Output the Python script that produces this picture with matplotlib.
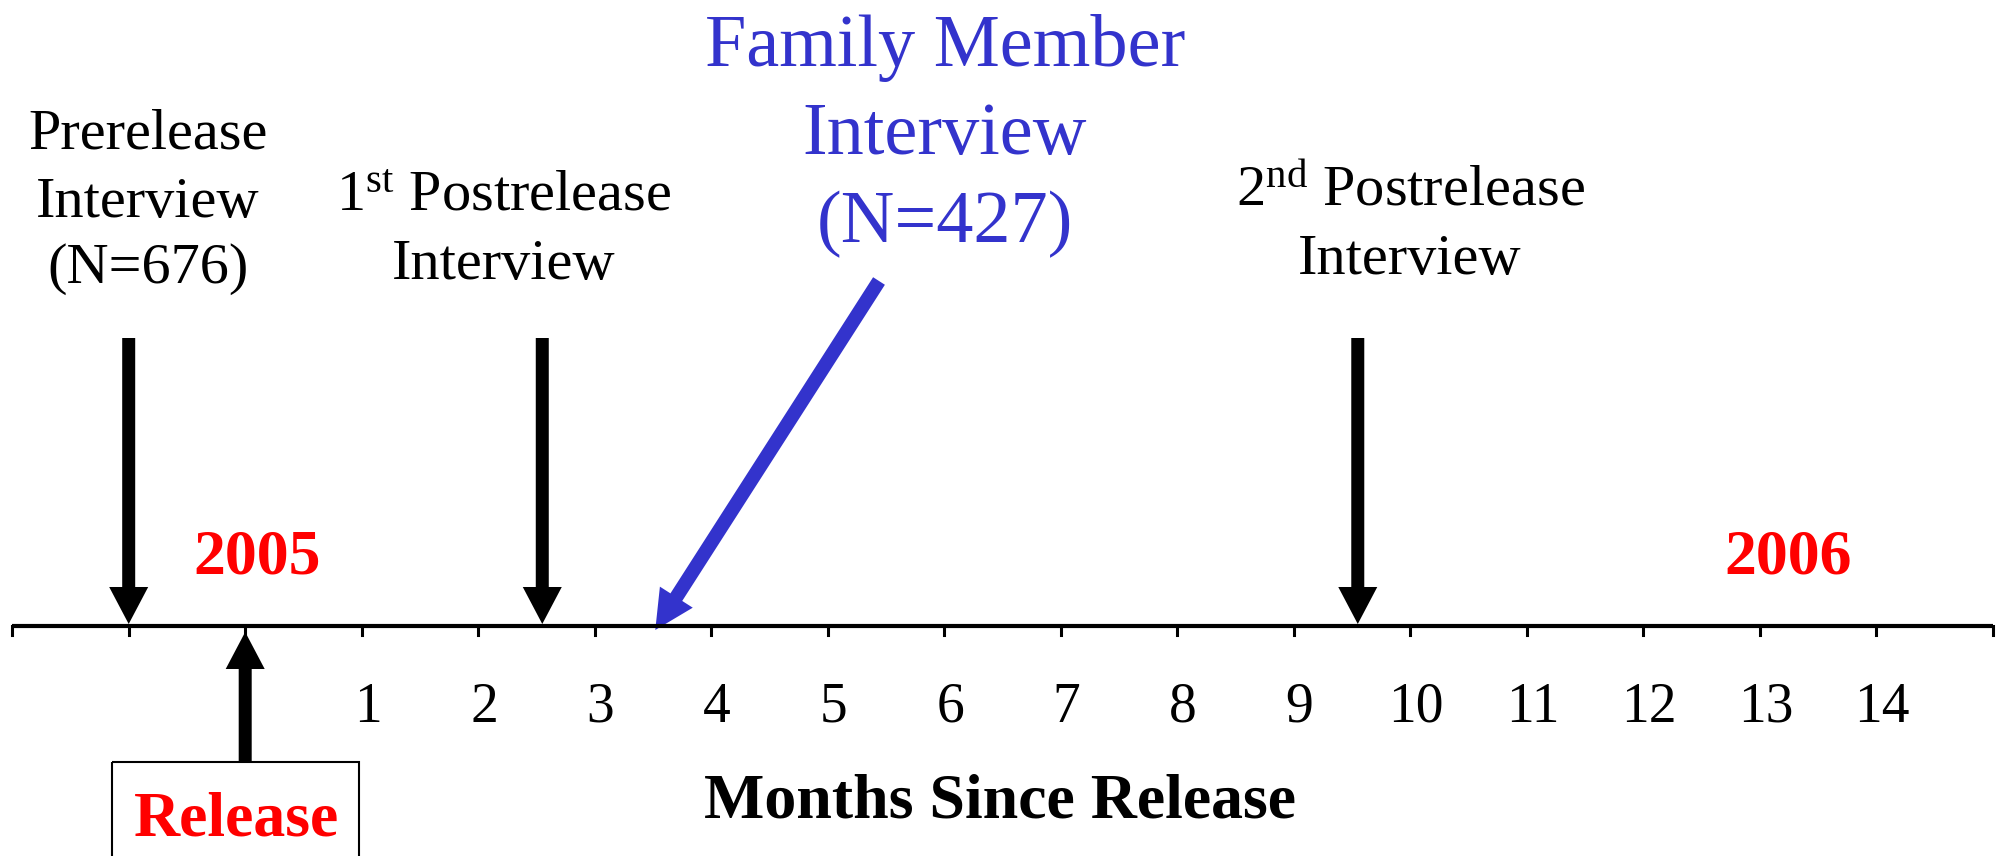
import matplotlib
matplotlib.use('Agg')
import matplotlib.pyplot as plt
from matplotlib.patches import FancyArrowPatch, Rectangle

plt.rcParams['font.family'] = 'Liberation Serif'
plt.rcParams['mathtext.fontset'] = 'custom'
plt.rcParams['mathtext.rm'] = 'Liberation Serif'
plt.rcParams['mathtext.it'] = 'Liberation Serif:italic'
plt.rcParams['mathtext.bf'] = 'Liberation Serif:bold'

# timeline data
months = list(range(-2, 16))
labelled_months = list(range(1, 15))
month_labels = [str(m) for m in labelled_months]

event_months = [-1, 2.55, 9.55]
event_lines = [['Prerelease', 'Interview', '(N=676)'],
               ['1$^{\\mathrm{st}}$ Postrelease', 'Interview'],
               ['2$^{\\mathrm{nd}}$ Postrelease', 'Interview']]
family_month = 3.52
family_lines = ['Family Member', 'Interview', '(N=427)']
release_month = 0
years = ['2005', '2006']

blue = '#3333CC'
red = '#FF0000'

# layout: x in months, y in pixels from the top
px0 = 245.2    # pixel of month 0
pxm = 116.5    # pixels per month
W, H = 1998, 856
def mx(px):
    return (px - px0) / pxm

fig = plt.figure(figsize=(19.98, 8.56), dpi=100)
ax = fig.add_axes([0, 0, 1, 1])
ax.set_xlim(mx(0), mx(W))
ax.set_ylim(H, 0)
ax.axis('off')

axis_y = 626
ax.plot([months[0], months[-1]], [axis_y, axis_y], color='black', lw=3.0, solid_capstyle='butt')
for m in months:
    ax.plot([m, m], [axis_y, axis_y + 9], color='black', lw=2.2)
for m, lab in zip(labelled_months, month_labels):
    ax.text(m + 0.05, 722, lab, ha='center', va='baseline', fontsize=40)

ax.text(mx(1000), 818, 'Months Since Release', ha='center', va='baseline',
        fontsize=46, fontweight='bold')

def arrow(x0, y0, x1, y1, color, tail, head_w, head_l):
    style = 'simple,head_length=%g,head_width=%g,tail_width=%g' % (head_l, head_w, tail)
    p = FancyArrowPatch((x0, y0), (x1, y1), arrowstyle=style, mutation_scale=0.72,
                        color=color, lw=0, shrinkA=0, shrinkB=0)
    ax.add_patch(p)

# event arrows and labels
text_x = [148, 504, 1410]
text_base = [[148, 217, 283], [210, 279], [206, 274]]
for m, lines, tx, bases in zip(event_months, event_lines, text_x, text_base):
    arrow(m, 338, m, axis_y - 2, 'black', 13, 39, 37)
    for line, b in zip(lines, bases):
        ax.text(mx(tx), b, line, ha='center', va='baseline', fontsize=42)

# family member interview
arrow(mx(879), 281, family_month, axis_y + 4, blue, 14, 39, 39)
for line, b in zip(family_lines, [66, 154, 242]):
    ax.text(mx(945), b, line, ha='center', va='baseline', fontsize=53.5, color=blue)

# years
for yx, yr in zip([257, 1788], years):
    ax.text(mx(yx), 573, yr, ha='center', va='baseline', fontsize=46,
            fontweight='bold', color=red)

# release
arrow(release_month, 762, release_month, axis_y + 6, 'black', 13, 39, 37)
ax.add_patch(Rectangle((mx(112), 762), mx(359) - mx(112), 100, fill=False,
                       edgecolor='black', lw=1.5))
ax.text(mx(236), 835, 'Release', ha='center', va='baseline', fontsize=46,
        fontweight='bold', color=red)

fig.savefig('out.png', dpi=100)
